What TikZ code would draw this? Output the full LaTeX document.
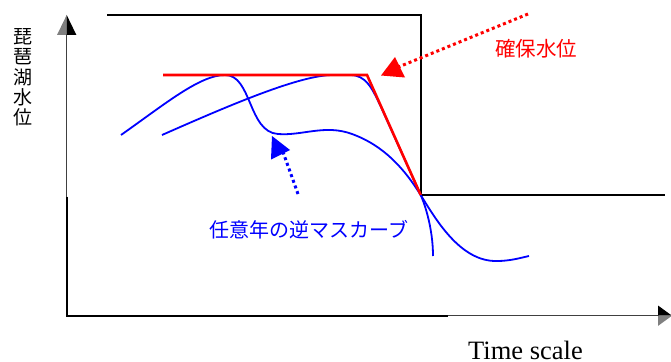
\documentclass[tikz,border=0pt]{standalone}
\usepackage{fontspec}
\setmainfont{Liberation Serif}
\newfontfamily\jpfont{Noto Sans CJK JP}
\begin{document}
\begin{tikzpicture}[x=1pt,y=-1pt,
  axisline/.style={draw=black!75,line width=1.2pt},
  boxline/.style={draw=black,line width=1.8pt},
  redline/.style={draw=red,line width=2.6pt},
  bluecurve/.style={draw=blue,line width=1.8pt},
  reddots/.style={draw=red,line width=3pt,dash pattern=on 3pt off 3pt},
  bluedots/.style={draw=blue,line width=3pt,dash pattern=on 3pt off 3pt},
  jplabel/.style={font=\jpfont\fontsize{20}{20}\selectfont,inner sep=0pt}]
\useasboundingbox (0,0) rectangle (671,361);
% axes
\coordinate (O) at (66.7,315.7);
\coordinate (ytip) at (66.7,15);
\coordinate (xtip) at (672,315.7);
\draw[axisline] (O) -- (66.7,34);
\draw[axisline] (O) -- (659,315.7);
\fill[black!50] (57,35) -- (ytip) -- (66.7,35) -- cycle;
\fill[black] (76.4,35) -- (ytip) -- (66.7,35) -- cycle;
\fill[black] (658,305.5) -- (xtip) -- (658,315.7) -- cycle;
\fill[black!50] (658,325.9) -- (xtip) -- (658,315.7) -- cycle;
\draw[boxline] (66.7,196.5) -- (O) -- (448,315.7);
% black step line
\coordinate (b1) at (107,15);
\coordinate (b2) at (420.7,15);
\coordinate (P) at (420.7,195);
\coordinate (b4) at (665,195);
\draw[boxline] (b1) -- (b2) -- (P) -- (b4);
% blue curves
\draw[bluecurve] (121,135) .. controls (165,104) and (200,75) .. (225,75)
  .. controls (252,75) and (248,132) .. (278,134)
  .. controls (302,136) and (325,124) .. (352,134)
  .. controls (385,146) and (405,170) .. (P)
  .. controls (435,218) and (460,262) .. (497,261)
  .. controls (510,261) and (520,258) .. (529,256);
\draw[bluecurve] (162,135) .. controls (230,105) and (300,75) .. (333,75)
  -- (350,75) .. controls (366,75) and (372,88) .. (381,107)
  -- (P) .. controls (428,212) and (433,235) .. (433,256);
% red guaranteed level
\coordinate (r1) at (163,75);
\coordinate (r2) at (367,75);
\draw[redline,line join=miter] (r1) -- (r2) -- (P);
% red label and arrow
\node[jplabel,font=\jpfont\fontsize{20.5}{20.5}\selectfont,text=red] (kaku) at (536,48.5) {確保水位};
\coordinate (rs) at (528,14);
\coordinate (re) at (396,68);
\draw[reddots] (rs) -- (re);
\fill[red] (381,75.5) -- (395,57) -- (405,77.5) -- cycle;
% blue label and arrow
\node[jplabel,text=blue] (nin) at (309,230) {任意年の逆マスカーブ};
\coordinate (bs) at (298,194);
\coordinate (be) at (283,152);
\draw[bluedots] (bs) -- (be);
\fill[blue] (272,136) -- (290,150) -- (271,159.5) -- cycle;
% axis labels
\node[jplabel,font=\jpfont\fontsize{19}{20.3}\selectfont,align=center] (ylab) at (23,77.5) {琵\\琶\\湖\\水\\位};
\node[inner sep=0pt,anchor=base,font=\fontsize{26.5}{26.5}\selectfont] (xlab) at (525.5,359.5) {Time scale};
\end{tikzpicture}
\end{document}
